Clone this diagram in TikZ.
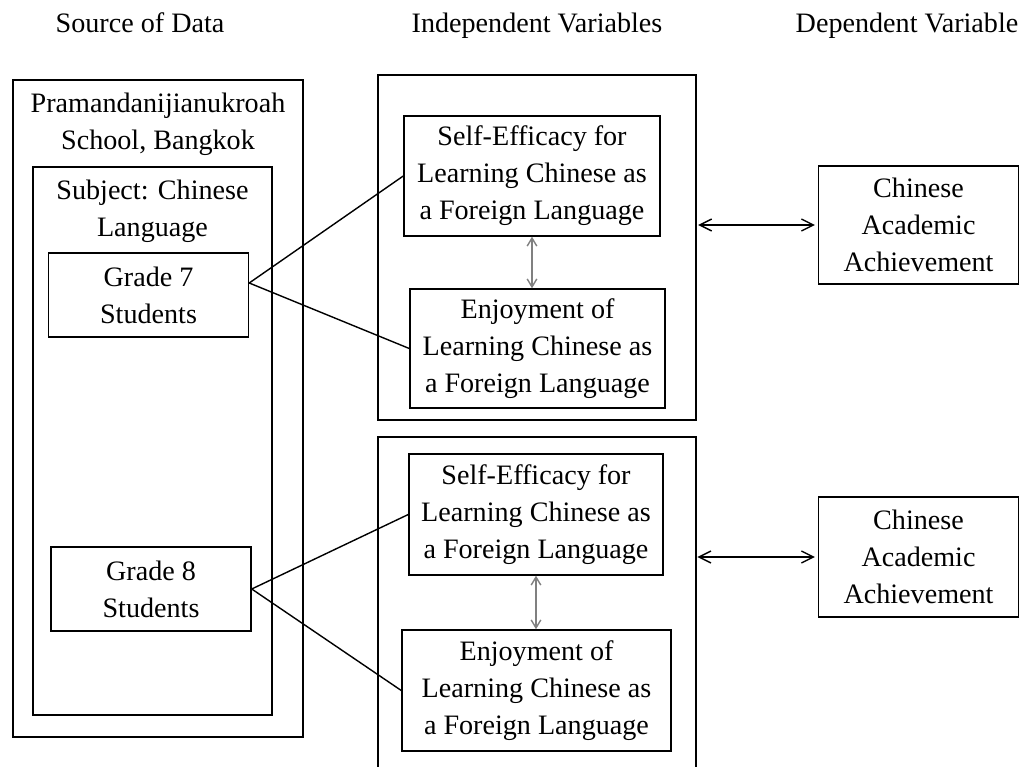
\documentclass[tikz,border=0pt]{standalone}
\usepackage{fontspec}
\setmainfont{Liberation Serif}
\usetikzlibrary{arrows.meta}

\begin{document}
\begin{tikzpicture}[x=0.025cm,y=-0.025cm,>={Straight Barb[length=3mm,width=3mm]},
        every node/.style={font=\fontsize{20}{26.3}\selectfont,align=center,inner sep=0pt},
        box/.style={draw,line width=1pt,minimum width=6.4cm,minimum height=3cm},
        grade/.style={draw,line width=1pt,minimum width=5cm,minimum height=2.1cm},
        frame/.style={draw,line width=1pt},
        link/.style={line width=1pt},
        both/.style={line width=1pt,<->,shorten <=1pt,shorten >=2pt},
        gboth/.style={gray,line width=1pt,{Straight Barb[length=2mm,width=2.4mm]}-{Straight Barb[length=2mm,width=2.4mm]}}]
            \useasboundingbox (0,0) rectangle (1020,767);
            \node[anchor=base] (hsrc) at (140,33) {Source of Data};
            \node[anchor=base] (hind) at (537,33) {Independent Variables};
            \node[anchor=base] (hdep) at (907,33) {Dependent Variable};
            \node[frame,minimum width=7.25cm,minimum height=16.425cm] (school) at (158,408.5) {};
            \node[frame,minimum width=5.975cm,minimum height=13.7cm] (subject) at (152.5,441) {};
            \node (schoolname) at (158,124) {Pramandanijianukroah\\School, Bangkok};
            \node (subjectname) at (152.5,211.5) {Subject: Chinese\\Language};
            \node[grade] (g7) at (148.5,295) {Grade 7\\Students};
            \node[grade] (g8) at (151,589) {Grade 8\\Students};
            \node[frame,minimum width=7.95cm,minimum height=8.625cm] (ivtop) at (537,247.5) {};
            \draw[frame] (378,767) coordinate (ivbl) |- (696,437) -- (696,767) coordinate (ivbr);
            \node[box] (se1) at (532,176) {Self-Efficacy for\\Learning Chinese as\\a Foreign Language};
            \node[box,minimum width=6.375cm,minimum height=2.975cm] (enj1) at (537.5,348.5) {Enjoyment of\\Learning Chinese as\\a Foreign Language};
            \node[box,minimum width=6.35cm,minimum height=3.025cm] (se2) at (536,514.5) {Self-Efficacy for\\Learning Chinese as\\a Foreign Language};
            \node[box,minimum width=6.725cm,minimum height=3.025cm] (enj2) at (536.5,690.5) {Enjoyment of\\Learning Chinese as\\a Foreign Language};
            \node[grade,minimum height=2.95cm] (caa1) at (918.5,225) {Chinese\\Academic\\Achievement};
            \node[grade,minimum height=3cm] (caa2) at (918.5,557) {Chinese\\Academic\\Achievement};
            \draw[link] ([yshift=0.3cm]g7.east) -- (se1.west);
            \draw[link] ([yshift=0.3cm]g7.east) -- (enj1.west);
            \draw[link] (g8.east) -- (se2.west);
            \draw[link] (g8.east) -- (enj2.west);
            \draw[gboth] (se1.south) -- (se1.south |- enj1.north);
            \draw[gboth] (se2.south) -- (se2.south |- enj2.north);
            \draw[both] (ivtop.east |- caa1.west) -- (caa1.west);
            \draw[both] (ivbr |- caa2.west) -- (caa2.west);
        \end{tikzpicture}
\end{document}
